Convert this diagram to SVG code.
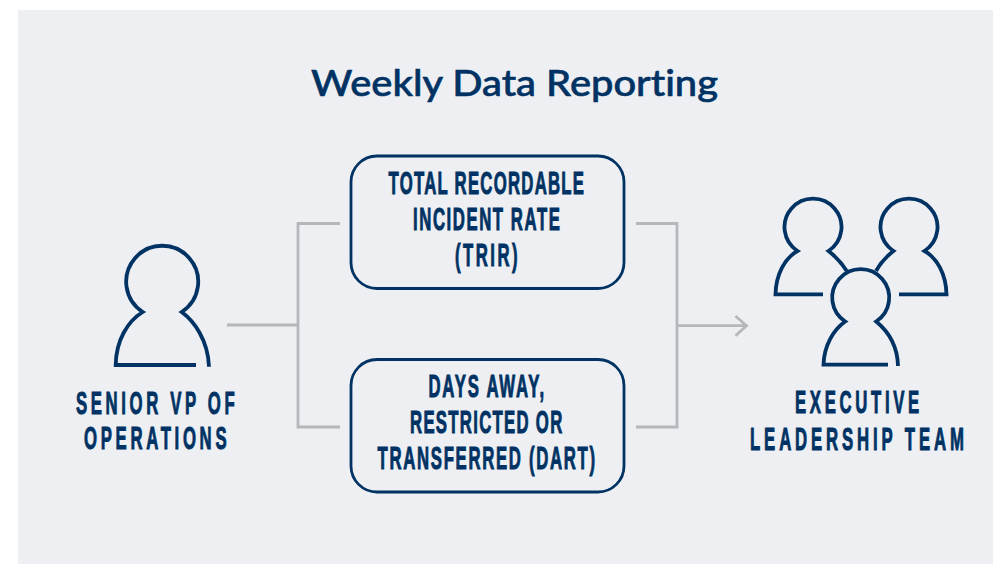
<svg xmlns="http://www.w3.org/2000/svg" width="993" height="564" viewBox="0 0 993 564">
<style>
.t{font-family:"Liberation Sans",Arial,sans-serif;font-weight:700;font-size:31px;fill:#003263;stroke:#003263;stroke-width:1}
.title{font-family:Lato,"Open Sans",sans-serif;font-weight:500;font-size:37px;fill:#003263;stroke:#003263;stroke-width:.6;font-variant-ligatures:none}
.box{fill:none;stroke:#003263;stroke-width:2.8}
.p{fill:none;stroke:#003263;stroke-width:3.8}
.c{fill:none;stroke:#b6b7bb;stroke-width:2.8}
</style>
<rect x="18" y="10" width="975" height="554" fill="#edeff3"/>
<text class="title" x="311" y="96" textLength="407" lengthAdjust="spacingAndGlyphs">Weekly Data Reporting</text>
<g id="connectors">
<path class="c" d="M227 325H298M340 223.5H298V427H340"/>
<path class="c" d="M636 223.5H677V427H636M677 325.7H746M735.5 316L746.5 325.7L735.5 335.7"/>
</g>
<g id="node-svp">
<path class="p" d="M209 366.700C208 340 194 321 181.700 312A36 36 0 1 0 142.700 312C128 321 116 340 115.700 365H196"/>
<text class="t" transform="translate(76 413.500) scale(.54 1)" textLength="294" lengthAdjust="spacing">SENIOR VP OF</text>
<text class="t" transform="translate(84 449) scale(.54 1)" textLength="264" lengthAdjust="spacing">OPERATIONS</text>
</g>
<g id="node-trir">
<rect class="box" x="351" y="156" width="273" height="132.500" rx="26"/>
<text class="t" transform="translate(388.500 193.500) scale(.54 1)" textLength="362" lengthAdjust="spacing">TOTAL RECORDABLE</text>
<text class="t" transform="translate(413 229.500) scale(.54 1)" textLength="272" lengthAdjust="spacing">INCIDENT RATE</text>
<text class="t" transform="translate(455 265.500) scale(.54 1)" textLength="116" lengthAdjust="spacing">(TRIR)</text>
</g>
<g id="node-dart">
<rect class="box" x="351" y="359.500" width="273" height="132.500" rx="26"/>
<text class="t" transform="translate(428.500 397) scale(.54 1)" textLength="214" lengthAdjust="spacing">DAYS AWAY,</text>
<text class="t" transform="translate(410 433) scale(.54 1)" textLength="282" lengthAdjust="spacing">RESTRICTED OR</text>
<text class="t" transform="translate(377.500 469) scale(.54 1)" textLength="403" lengthAdjust="spacing">TRANSFERRED (DART)</text>
</g>
<g id="node-team">
<path class="p" d="M846.700 271C841 262 835 256 828.500 251A28.500 28.500 0 1 0 797.500 251C785 258 776 274 775.500 294.300H823"/>
<path class="p" d="M876 271C881 262 887 256 893.500 251A28.500 28.500 0 1 1 924.500 251C937 258 946 274 946.500 294.300H899"/>
<path class="p" d="M898 366C897.500 346 889 332 876.200 321.500A28.500 28.500 0 1 0 845.200 321.500C833 330 824 346 823.500 364.700H888"/>
<text class="t" transform="translate(795 413) scale(.54 1)" textLength="230" lengthAdjust="spacing">EXECUTIVE</text>
<text class="t" transform="translate(750 449.500) scale(.54 1)" textLength="396" lengthAdjust="spacing">LEADERSHIP TEAM</text>
</g>
</svg>
